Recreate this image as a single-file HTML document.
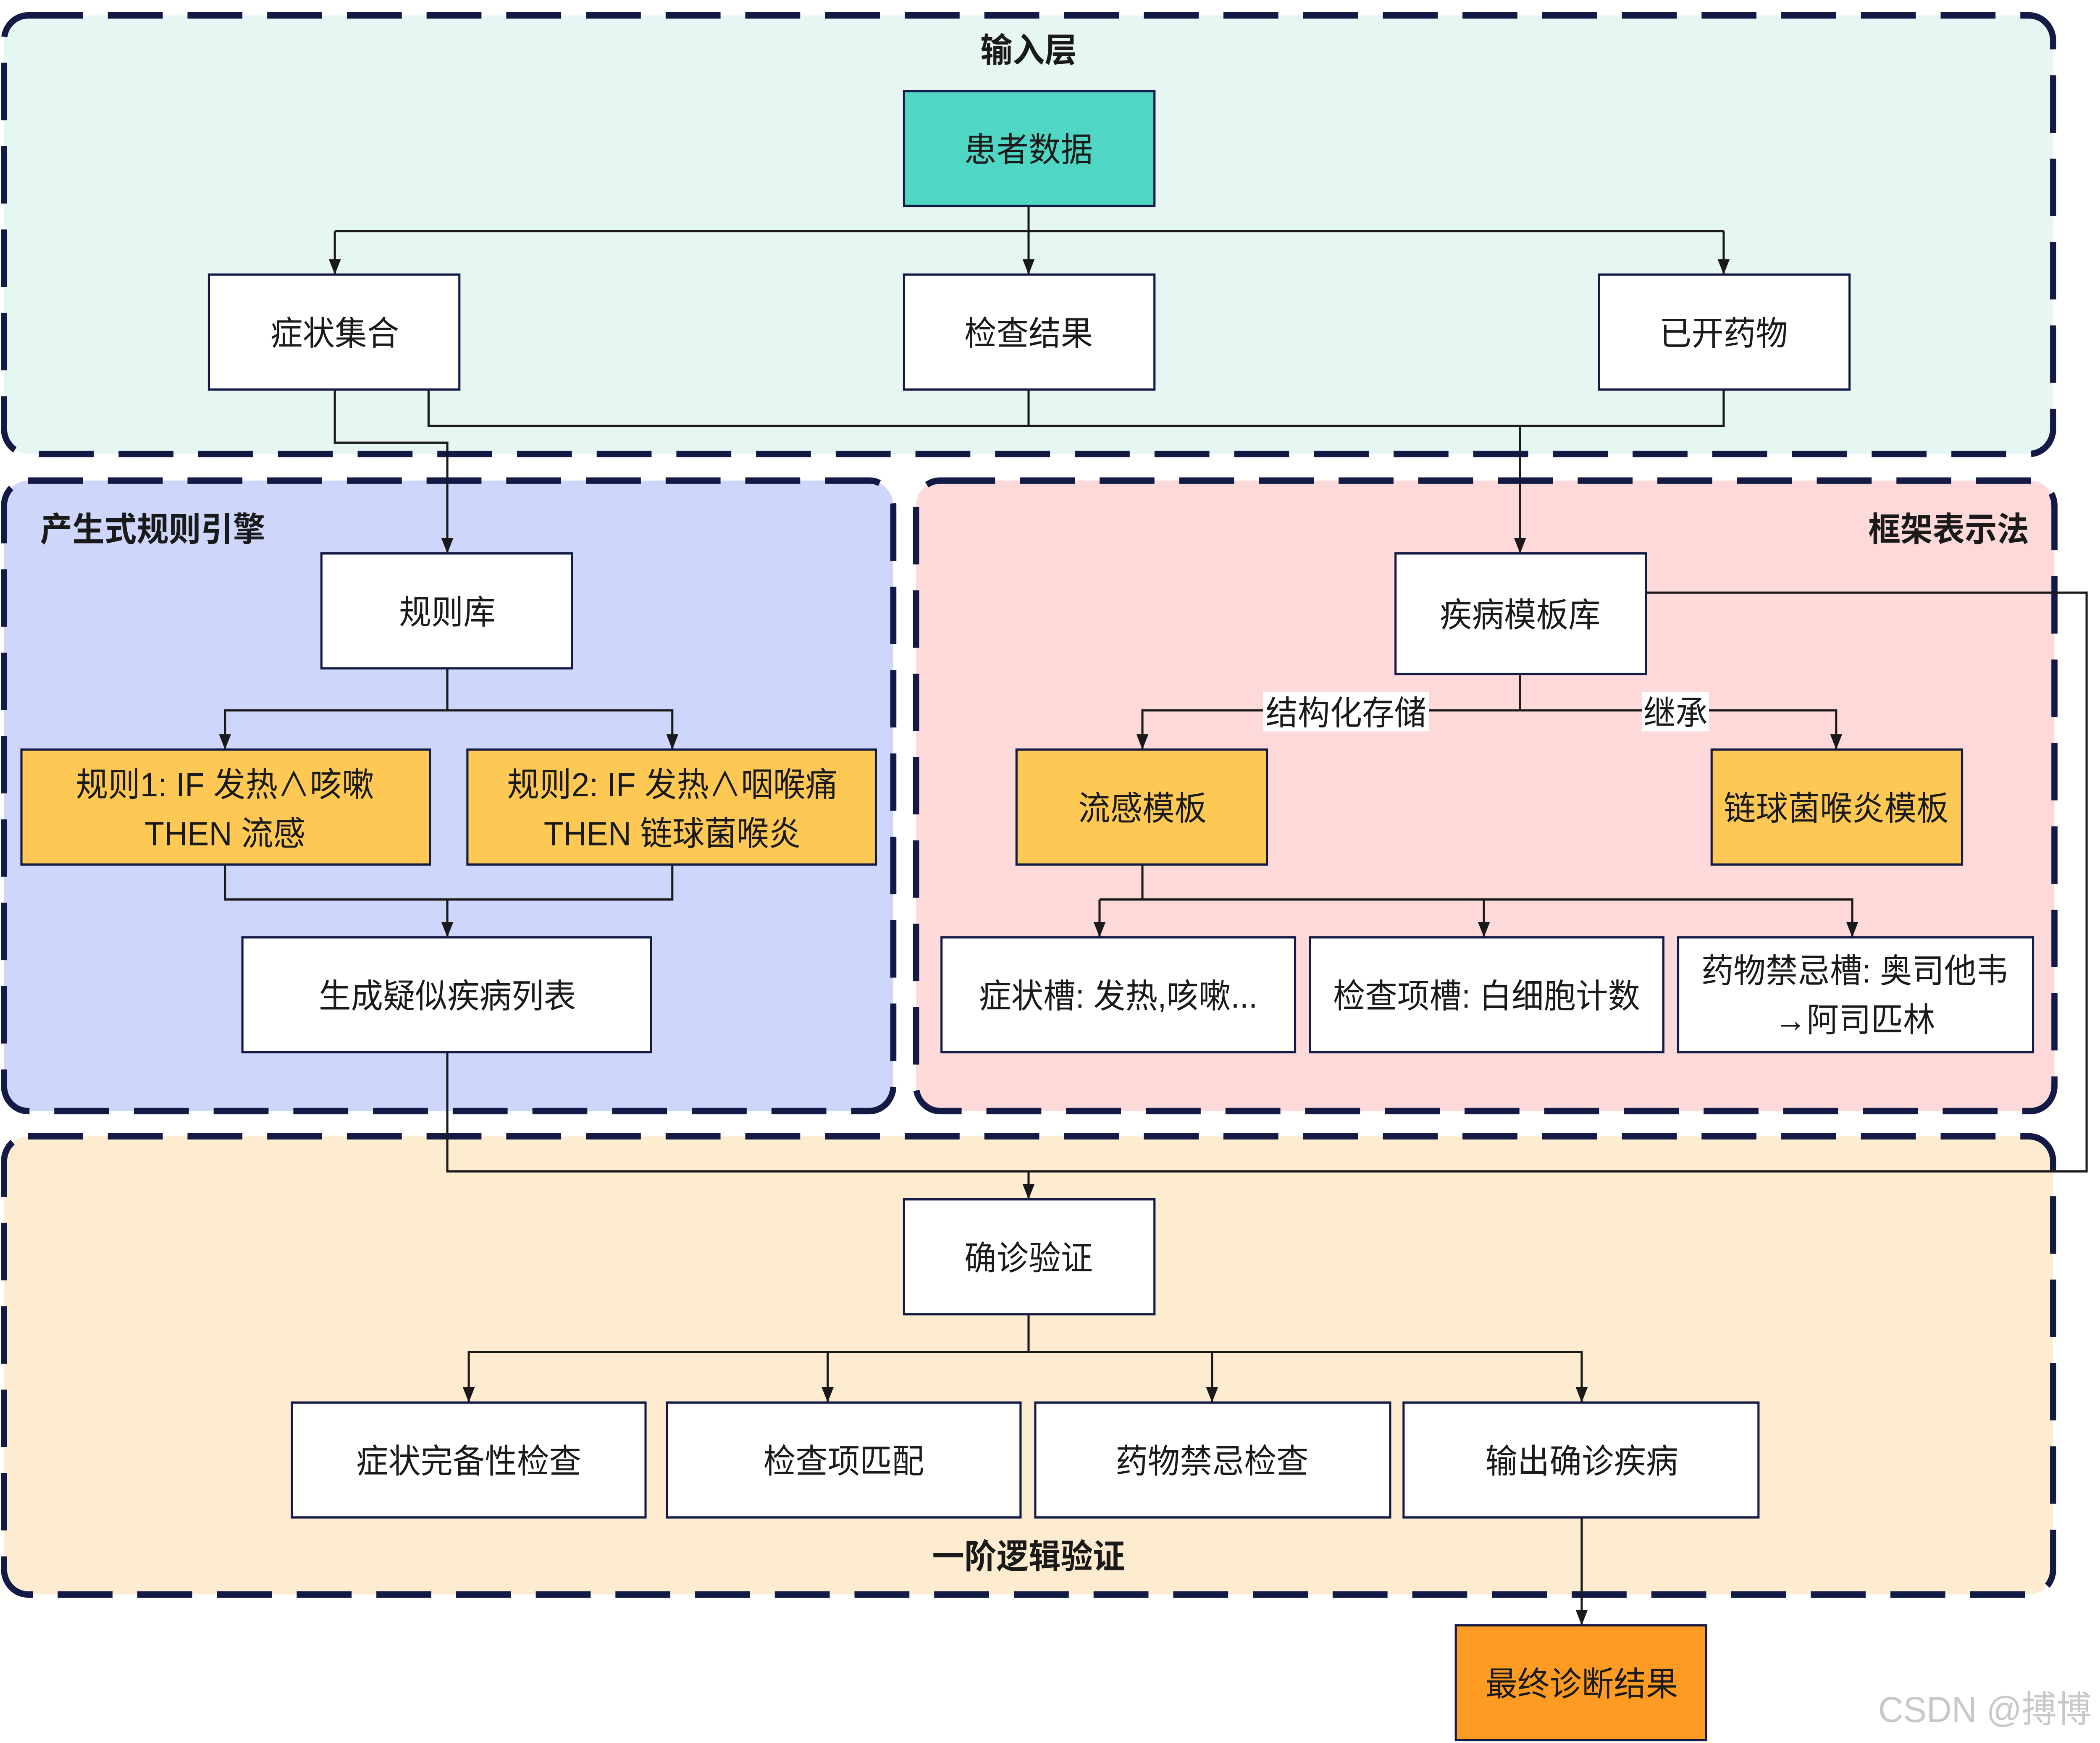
<!DOCTYPE html>
<html><head><meta charset="utf-8"><style>
html,body{margin:0;padding:0;background:#fff;overflow:hidden;width:100%;height:100%;}
svg{display:block;position:fixed;left:0;top:0;width:100vw;height:100vh;}
text{font-family:"Liberation Sans","Noto Sans CJK SC",sans-serif;fill:#1a1a1a;}
.t{font-size:24px;text-anchor:middle;dominant-baseline:central;}
.h{font-size:24px;font-weight:bold;dominant-baseline:central;}
.g{stroke:#121a45;stroke-width:4.6;stroke-dasharray:41 18.5;}
.n{stroke:#121a45;stroke-width:1.6;}
.e{stroke:#1a1a1a;stroke-width:1.6;fill:none;}
</style></head><body>
<svg viewBox="0 0 1568 1244" preserveAspectRatio="none" xmlns="http://www.w3.org/2000/svg">
<defs>
<marker id="b" markerWidth="9" markerHeight="11" refX="4.5" refY="11" orient="0" markerUnits="userSpaceOnUse"><path d="M0,0 L9,0 L4.5,11 z" fill="#1a1a1a"/></marker></defs>

<rect x="3" y="11" width="1530" height="313" rx="18" fill="#e6f6f3" class="g"/>
<rect x="3" y="343" width="664" height="450" rx="18" fill="#cfd6fc" class="g"/>
<rect x="684" y="343" width="850" height="450" rx="18" fill="#fdd9da" class="g"/>
<rect x="3" y="811" width="1530" height="327" rx="18" fill="#feecd0" class="g"/>

<text class="h" x="768" y="36" text-anchor="middle">输入层</text>
<text class="h" x="30" y="378">产生式规则引擎</text>
<text class="h" x="1515" y="378" text-anchor="end">框架表示法</text>
<text class="h" x="768" y="1111" text-anchor="middle">一阶逻辑验证</text>

<g class="e">
<path d="M768,147 V165"/>
<path d="M250,165 H1287"/>
<path d="M250,165 V196" marker-end="url(#b)"/>
<path d="M768,165 V196" marker-end="url(#b)"/>
<path d="M1287,165 V196" marker-end="url(#b)"/>
<path d="M250,278 V316 H334 V395" marker-end="url(#b)"/>
<path d="M320,278 V304 H1287 V278"/>
<path d="M768,278 V304"/>
<path d="M1135,304 V395" marker-end="url(#b)"/>
<path d="M334,477 V507 H168 V535" marker-end="url(#b)"/>
<path d="M334,507 H502 V535" marker-end="url(#b)"/>
<path d="M168,617 V642 H502 V617"/>
<path d="M334,642 V669" marker-end="url(#b)"/>
<path d="M334,751 V836 H1558 V423 H1229"/>
<path d="M768,836 V856" marker-end="url(#b)"/>
<path d="M1135,481 V507 H853 V535" marker-end="url(#b)"/>
<path d="M1135,507 H1371 V535" marker-end="url(#b)"/>
<path d="M853,617 V642"/>
<path d="M821,642 H1383 V669" marker-end="url(#b)"/>
<path d="M821,642 V669" marker-end="url(#b)"/>
<path d="M1108,642 V669" marker-end="url(#b)"/>
<path d="M768,938 V965 H350 V1001" marker-end="url(#b)"/>
<path d="M768,965 H1181 V1001" marker-end="url(#b)"/>
<path d="M618,965 V1001" marker-end="url(#b)"/>
<path d="M905,965 V1001" marker-end="url(#b)"/>
<path d="M1181,1083 V1160" marker-end="url(#b)"/>
</g>
<rect x="943" y="494" width="124" height="28" fill="#fff"/>
<text class="t" x="1005" y="509">结构化存储</text>
<rect x="1226" y="494" width="50" height="28" fill="#fff"/>
<text class="t" x="1251" y="509">继承</text>

<g class="n">
<rect x="675" y="65" width="187" height="82" fill="#4fd6c5"/>
<rect x="156" y="196" width="187" height="82" fill="#fff"/>
<rect x="675" y="196" width="187" height="82" fill="#fff"/>
<rect x="1194" y="196" width="187" height="82" fill="#fff"/>
<rect x="240" y="395" width="187" height="82" fill="#fff"/>
<rect x="16" y="535" width="305" height="82" fill="#fdc854"/>
<rect x="349" y="535" width="305" height="82" fill="#fdc854"/>
<rect x="181" y="669" width="305" height="82" fill="#fff"/>
<rect x="1042" y="395" width="187" height="86" fill="#fff"/>
<rect x="759" y="535" width="187" height="82" fill="#fdc854"/>
<rect x="1278" y="535" width="187" height="82" fill="#fdc854"/>
<rect x="703" y="669" width="264" height="82" fill="#fff"/>
<rect x="978" y="669" width="264" height="82" fill="#fff"/>
<rect x="1253" y="669" width="265" height="82" fill="#fff"/>
<rect x="675" y="856" width="187" height="82" fill="#fff"/>
<rect x="218" y="1001" width="264" height="82" fill="#fff"/>
<rect x="498" y="1001" width="264" height="82" fill="#fff"/>
<rect x="773" y="1001" width="265" height="82" fill="#fff"/>
<rect x="1048" y="1001" width="265" height="82" fill="#fff"/>
<rect x="1087" y="1160" width="187" height="82" fill="#fd9b22"/>
</g>

<text class="t" x="768" y="107">患者数据</text>
<text class="t" x="250" y="238">症状集合</text>
<text class="t" x="768" y="238">检查结果</text>
<text class="t" x="1287" y="238">已开药物</text>
<text class="t" x="334" y="437">规则库</text>
<text class="t" x="168" y="560">规则1: IF 发热∧咳嗽</text>
<text class="t" x="168" y="595">THEN 流感</text>
<text class="t" x="502" y="560">规则2: IF 发热∧咽喉痛</text>
<text class="t" x="502" y="595">THEN 链球菌喉炎</text>
<text class="t" x="334" y="711">生成疑似疾病列表</text>
<text class="t" x="1135" y="439">疾病模板库</text>
<text class="t" x="853" y="577">流感模板</text>
<text class="t" x="1371" y="577">链球菌喉炎模板</text>
<text class="t" x="835" y="711">症状槽: 发热,咳嗽...</text>
<text class="t" x="1110" y="711">检查项槽: 白细胞计数</text>
<text class="t" x="1385" y="693">药物禁忌槽: 奥司他韦</text>
<text class="t" x="1385" y="728">→阿司匹林</text>
<text class="t" x="768" y="898">确诊验证</text>
<text class="t" x="350" y="1043">症状完备性检查</text>
<text class="t" x="630" y="1043">检查项匹配</text>
<text class="t" x="905" y="1043">药物禁忌检查</text>
<text class="t" x="1181" y="1043">输出确诊疾病</text>
<text class="t" x="1181" y="1202">最终诊断结果</text>
<text x="1482" y="1220" style="font-size:26px;fill:#c8c8c8;text-anchor:middle;dominant-baseline:central;">CSDN @搏博</text>
</svg>
</body></html>
